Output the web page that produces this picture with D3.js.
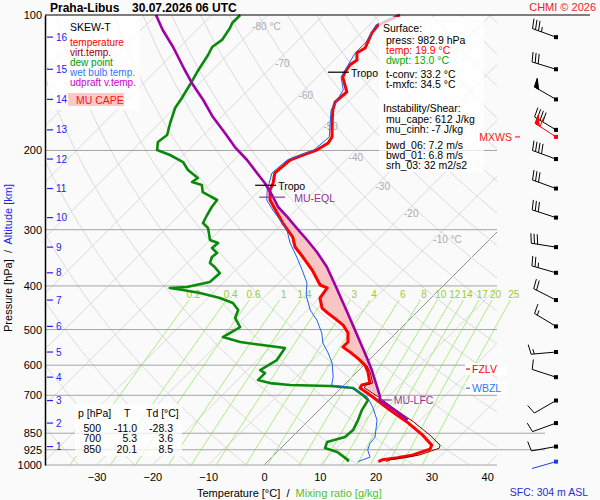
<!DOCTYPE html>
<html>
<head>
<meta charset="utf-8">
<title>SKEW-T Praha-Libus</title>
<script src="https://cdn.jsdelivr.net/npm/d3@7"></script>
<style>
body { margin: 0; background: #fafafa; }
svg { font-family: "Liberation Sans", Arial, sans-serif; }
text { white-space: pre; }
</style>
</head>
<body>
<svg id="skewt" width="600" height="500"></svg>
<script>
var pressureTicks = [100, 200, 300, 400, 500, 600, 700, 850, 925, 1000];
var tempTicks = [-30, -20, -10, 0, 10, 20, 30, 40];
var isoLabelT = [-80, -70, -60, -50, -40, -30, -20, -10];
var isoLabelP = [106, 128, 151, 177, 207, 240, 276, 316];
var mixRatios = [0.2, 0.4, 0.6, 1, 1.4, 2, 3, 4, 6, 8, 10, 12, 14, 17, 20, 25];
var mixLabels = ["0.2", "0.4", "0.6", "1", "1.4", "2", "3", "4", "6", "8", "10", "12", "14", "17", "20", "25"];

// altitude (km) and the pressure where it sits; winds are plotted at each km
var altKm = [1, 2, 3, 4, 5, 6, 7, 8, 9, 10, 11, 12, 13, 14, 15, 16];
var altP = [910, 807, 719, 638, 561, 492, 430, 374, 328, 282, 243, 209, 180, 154, 132, 112];
var windDir = [260, 250, 240, 288, 265, 301, 297, 286, 279, 288, 290, 290, 301, 300, 287, 290];
var windSpd = [10, 10, 10, 10, 15, 15, 20, 25, 30, 30, 30, 40, 40, 50, 30, 35];
var sfcWind = [982.9, 254, 2];      // p, dir, speed
var maxWind = [186.6, 303, 60];     // MXWS level

// profiles as [p hPa, T degC]
var temperature = [[100,-56.3],[105.3,-58.4],[109.6,-58.1],[114.8,-57.2],[118.4,-56.6],[121.5,-57.2],[125.9,-55.9],[129.2,-56.3],[133.9,-55.9],[137.4,-55.4],[148.3,-52.0],[152.9,-52.2],[156.1,-52.3],[162.6,-51.3],[173.7,-49.1],[186.6,-46.6],[192.5,-46.2],[199.5,-47.0],[204.7,-48.6],[210.0,-50.0],[217.8,-50.2],[224.4,-50.4],[236.2,-48.9],[244.9,-48.2],[257.8,-46.4],[275.5,-42.8],[289.9,-40.0],[311.5,-35.7],[327.8,-33.5],[345.0,-30.3],[368.8,-26.3],[398.1,-22.2],[404.2,-20.4],[425.6,-19.9],[448.2,-17.7],[459.6,-15.8],[476.3,-12.9],[488.7,-10.9],[509.0,-8.6],[533.0,-7.0],[546.8,-7.0],[561.3,-4.8],[579.3,-2.3],[599.9,0.2],[621.9,2.0],[657.6,4.3],[664.2,3.2],[674.2,3.4],[691.7,5.6],[705.9,7.3],[754.6,12.7],[802.2,17.9],[858.5,23.1],[903.3,26.5],[921.8,26.9],[949.7,24.9],[963.4,22.6],[973.1,20.3],[982.9,19.9]];
var virtTemp = [[599.9,0.5],[621.9,2.4],[657.6,4.8],[664.2,3.8],[674.2,4.2],[691.7,6.5],[705.9,8.3],[754.6,13.8],[802.2,19.1],[858.5,24.4],[903.3,28.0],[918.0,28.4],[949.7,26.1],[963.4,23.9],[973.1,21.7],[982.9,21.3]];
var dewPoint = [[100,-84.9],[104.2,-84.9],[106.9,-84.4],[113.6,-83.7],[117.8,-84.2],[122.7,-83.5],[127.8,-83.0],[133.9,-82.4],[143.1,-81.4],[152.9,-80.5],[161.0,-79.9],[173.8,-78.1],[184.8,-76.5],[191.5,-76.9],[199.6,-75.6],[204.7,-72.4],[212.2,-68.8],[221.0,-66.5],[230.2,-63.3],[235.1,-63.6],[238.7,-61.3],[247.4,-59.9],[257.7,-55.9],[267.1,-55.6],[278.3,-55.0],[289.9,-54.3],[297.4,-52.5],[316.2,-50.0],[321.2,-48.0],[329.5,-48.2],[338.0,-46.4],[345.0,-46.6],[355.6,-45.9],[363.2,-44.3],[374.7,-42.3],[392.2,-42.5],[402.3,-45.7],[404.4,-48.6],[408.5,-45.9],[414.8,-42.3],[425.6,-37.8],[436.6,-34.6],[452.5,-32.4],[471.5,-31.5],[493.7,-29.0],[519.6,-30.3],[533.0,-26.3],[540.0,-22.6],[549.7,-17.2],[584.5,-16.5],[615.2,-17.7],[624.7,-16.3],[647.5,-16.3],[657.6,-13.6],[664.3,-9.7],[667.7,-2.3],[674.6,2.2],[699.2,5.2],[717.3,7.0],[755.0,7.7],[794.6,8.8],[836.4,9.7],[866.9,9.5],[889.3,7.2],[917.1,7.9],[936.0,10.8],[975.2,14.2],[982.9,14.3]];
var wetBulb = [[100,-56.6],[105.3,-58.8],[114.8,-57.5],[121.5,-57.5],[129.2,-56.6],[137.4,-55.7],[146.8,-53.0],[162.6,-51.6],[186.6,-47.1],[199.5,-47.5],[210.0,-50.5],[224.4,-50.9],[244.9,-48.7],[257.7,-47.0],[271.3,-44.1],[285.5,-41.0],[300.5,-38.0],[321.2,-35.1],[345.0,-31.4],[368.8,-28.1],[394.2,-24.9],[419.2,-22.9],[452.5,-19.5],[476.3,-16.5],[509.0,-13.3],[535.8,-11.3],[561.3,-8.8],[593.0,-6.1],[637.0,-3.4],[664.3,-2.2],[671.0,1.1],[681.0,2.9],[705.9,6.3],[743.6,9.1],[794.6,12.2],[866.9,14.9],[894.4,15.1],[926.3,15.9],[960.6,17.6],[975.2,16.7],[982.9,16.2]];
var parcel = [[100,-100.0],[108.0,-96.1],[117.8,-91.2],[130.5,-85.8],[141.6,-81.4],[154.5,-76.3],[168.6,-71.5],[182.9,-66.5],[196.5,-62.2],[210.0,-57.7],[224.4,-53.6],[236.2,-50.4],[253.8,-46.4],[267.1,-43.7],[280.9,-40.3],[297.5,-36.6],[316.2,-32.6],[336.2,-28.7],[363.2,-24.2],[398.2,-19.5],[457.3,-12.5],[514.3,-6.6],[576.3,-0.9],[615.2,2.3],[671.0,6.3],[705.9,8.6],[717.3,9.1],[755.0,13.6],[794.6,17.7]];

// special levels (hPa)
var tropoP = [134, 239];
var eqlP = 254, lfcP = 717, fzlvP = 612, wbzlP = 675;

// small table
var tableP = [500, 700, 850];
var tableT = [-11.0, 5.3, 20.1];
var tableTd = [-28.3, 3.6, 8.5];

var svg = d3.select("#skewt");
var plotL = 45, plotR = 497, plotT = 15, plotB = 465;

var yScale = d3.scaleLog().domain([100, 1000]).range([plotT, plotB]);
var tScale = d3.scaleLinear().domain([0, 10]).range([264, 319.8]);   // at 1000 hPa
// skewed x position of temperature t at pressure p
function sx(t, p) { return tScale(t) + (plotB - yScale(p)); }

var line = d3.line().x(function(d){ return sx(d[1], d[0]); }).y(function(d){ return yScale(d[0]); });

svg.append("rect").attr("width", 600).attr("height", 500).attr("fill", "#fafafa");

var defs = svg.append("defs");
defs.append("clipPath").attr("id", "plotClip").append("rect")
  .attr("x", plotL).attr("y", plotT).attr("width", plotR - plotL).attr("height", plotB - plotT);
defs.append("clipPath").attr("id", "mixClip").append("rect")
  .attr("x", plotL).attr("y", plotT).attr("width", 540 - plotL).attr("height", plotB - plotT);

// ---- background grid ----
var grid = svg.append("g").attr("clip-path", "url(#plotClip)");

// isotherms
d3.range(-130, 60, 10).forEach(function(t){
  grid.append("line")
    .attr("x1", sx(t, 1000)).attr("y1", yScale(1000))
    .attr("x2", sx(t, 100)).attr("y2", yScale(100))
    .attr("stroke", t === 0 ? "#777" : "#dadada")
    .attr("stroke-width", t === 0 ? 0.8 : 1);
});

// dry adiabats
var pSteps = d3.range(100, 1001, 10);
d3.range(220, 480, 10).forEach(function(th){
  var pts = pSteps.map(function(p){ return [p, th * Math.pow(p / 1000, 0.286) - 273.15]; });
  grid.append("path").attr("d", line(pts)).attr("fill", "none").attr("stroke", "#dadada").attr("stroke-width", 1);
});

// mixing ratio lines
function tdFromMix(w, p) {
  var e = w * p / (622 + w);
  var l = Math.log(e / 6.112);
  return 243.5 * l / (17.67 - l);
}
var mixG = svg.append("g").attr("clip-path", "url(#mixClip)");
var mixSteps = d3.range(430, 1001, 10);
mixRatios.forEach(function(w, i){
  var pts = mixSteps.map(function(p){ return [p, tdFromMix(w, p)]; });
  mixG.append("path").attr("d", line(pts)).attr("fill", "none").attr("stroke", "#a8ec80").attr("stroke-width", 1);
  svg.append("text")
    .attr("x", sx(tdFromMix(w, 417), 417)).attr("y", yScale(417)).attr("dy", "0.35em")
    .attr("text-anchor", "middle").attr("font-size", 10).attr("fill", "#99cc33")
    .text(mixLabels[i]);
});

// isotherm labels
isoLabelT.forEach(function(t, i){
  var lbl = (t === -80 || t === -10) ? t + " °C" : String(t);
  svg.append("text")
    .attr("x", sx(t, isoLabelP[i]) + (t === -80 ? -4 : 0)).attr("y", yScale(isoLabelP[i])).attr("dy", "0.35em")
    .attr("font-size", 10).attr("fill", "#aaa").text(lbl);
});

// pressure lines
pressureTicks.forEach(function(p){
  if (p === 100) return;
  svg.append("line")
    .attr("x1", plotL).attr("x2", (p === 850 || p === 925) ? 545 : plotR)
    .attr("y1", yScale(p)).attr("y2", yScale(p))
    .attr("stroke", "#a4a4a4").attr("stroke-width", 1);
});

// ---- CAPE area between environment and parcel ----
function interpT(arr, p) {
  for (var i = 0; i < arr.length - 1; i++) {
    if (p >= arr[i][0] && p <= arr[i + 1][0]) {
      var f = Math.log(p / arr[i][0]) / Math.log(arr[i + 1][0] / arr[i][0]);
      return arr[i][1] + f * (arr[i + 1][1] - arr[i][1]);
    }
  }
  return arr[arr.length - 1][1];
}
function between(arr, p1, p2) { return arr.filter(function(d){ return d[0] > p1 && d[0] < p2; }); }
var capePts = [[eqlP, interpT(parcel, eqlP)]]
  .concat(between(parcel, eqlP, lfcP))
  .concat([[lfcP, interpT(parcel, lfcP)], [lfcP, interpT(virtTemp, lfcP)]])
  .concat(between(temperature, eqlP, 600).concat(between(virtTemp, 599, lfcP)).reverse())
  .concat([[eqlP, interpT(temperature, eqlP)]]);
svg.append("path").attr("d", line(capePts) + "Z").attr("fill", "#f9c4c4").attr("stroke", "none");

// ---- profiles ----
svg.append("path").attr("d", line(dewPoint)).attr("fill", "none").attr("stroke", "#0a8a0a").attr("stroke-width", 2.6).attr("stroke-linejoin", "round");
svg.append("path").attr("d", line(temperature)).attr("fill", "none").attr("stroke", "#ff0000").attr("stroke-width", 3).attr("stroke-linejoin", "round");
svg.append("path").attr("d", line(virtTemp)).attr("fill", "none").attr("stroke", "#8b0000").attr("stroke-width", 1).attr("stroke-linejoin", "round");
svg.append("path").attr("d", line(wetBulb)).attr("fill", "none").attr("stroke", "#1f62f0").attr("stroke-width", 1).attr("stroke-linejoin", "round");
svg.append("path").attr("d", line(parcel)).attr("fill", "none").attr("stroke", "#a000a8").attr("stroke-width", 2.6).attr("stroke-linejoin", "round");

// ---- semi transparent boxes ----
svg.append("rect").attr("x", 48).attr("y", 16).attr("width", 92).attr("height", 94).attr("fill", "#fff").attr("opacity", 0.75);
svg.append("rect").attr("x", 379).attr("y", 17).attr("width", 105).attr("height", 155).attr("fill", "#fff").attr("opacity", 0.75);
svg.append("rect").attr("x", 75).attr("y", 404).attr("width", 107).attr("height", 52).attr("fill", "#fff").attr("opacity", 0.75);

// ---- axes ----
var yAxis = svg.append("g").attr("transform", "translate(" + plotL + ",0)")
  .call(d3.axisLeft(yScale).tickValues(pressureTicks).tickFormat(d3.format("d")).tickSize(0).tickSizeOuter(0).tickPadding(3));
yAxis.select(".domain").attr("stroke", "#000").attr("stroke-width", 1.5);
yAxis.selectAll("text").attr("font-size", 11).attr("fill", "#000").attr("font-family", "Liberation Sans, Arial, sans-serif");

var xAxis = svg.append("g").attr("transform", "translate(0," + plotB + ")")
  .call(d3.axisBottom(tScale).tickValues(tempTicks).tickSize(0).tickPadding(8));
xAxis.select(".domain").remove();
xAxis.selectAll("text").attr("font-size", 11).attr("fill", "#000").attr("font-family", "Liberation Sans, Arial, sans-serif");

// top frame line
svg.append("line").attr("x1", plotL).attr("x2", 590).attr("y1", plotT).attr("y2", plotT).attr("stroke", "#000").attr("stroke-width", 1.2);

// altitude ticks
altKm.forEach(function(km, i){
  var y = yScale(altP[i]);
  svg.append("line").attr("x1", 47).attr("x2", 53).attr("y1", y).attr("y2", y).attr("stroke", "#2222ee").attr("stroke-width", 1.2);
  svg.append("text").attr("x", 56).attr("y", y).attr("dy", "0.35em").attr("font-size", 10).attr("fill", "#2222ee").text(km);
});

// axis titles
var yt = svg.append("text").attr("transform", "translate(12,258) rotate(-90)").attr("text-anchor", "middle").attr("font-size", 11);
yt.append("tspan").attr("fill", "#000").text("Pressure [hPa]  /  ");
yt.append("tspan").attr("fill", "#2222ee").text("Altitude [km]");
var xt = svg.append("text").attr("x", 197).attr("y", 497).attr("font-size", 11);
xt.append("tspan").attr("fill", "#000").text("Temperature [°C]  /  ");
xt.append("tspan").attr("fill", "#55c22a").text("Mixing ratio [g/kg]");

svg.append("text").attr("x", 588).attr("y", 496).attr("text-anchor", "end").attr("font-size", 10.5).attr("fill", "#2a2ad8").text("SFC: 304 m ASL");
svg.append("text").attr("x", 50).attr("y", 12).attr("font-size", 12).attr("font-weight", "bold").text("Praha-Libus");
svg.append("text").attr("x", 132).attr("y", 12).attr("font-size", 12).attr("font-weight", "bold").text("30.07.2026 06 UTC");
svg.append("text").attr("x", 596).attr("y", 11).attr("text-anchor", "end").attr("font-size", 11).attr("fill", "#ee2222").text("CHMI © 2026");

// ---- legend ----
svg.append("text").attr("x", 70).attr("y", 27).attr("dy", "0.35em").attr("font-size", 10.5).text("SKEW-T");
var legendItems = [["temperature", "#ff0000"], ["virt.temp.", "#990000"], ["dew point", "#009900"], ["wet bulb temp.", "#3377ff"], ["udpraft v.temp.", "#cc00cc"]];
legendItems.forEach(function(it, i){
  svg.append("text").attr("x", 70).attr("y", 42 + i * 10).attr("dy", "0.35em").attr("font-size", 10).attr("fill", it[1]).text(it[0]);
});
svg.append("rect").attr("x", 68).attr("y", 93).attr("width", 56).attr("height", 13).attr("fill", "#ffc8c8");
svg.append("text").attr("x", 76).attr("y", 100).attr("dy", "0.35em").attr("font-size", 10.5).attr("fill", "#ff1111").text("MU CAPE");

// ---- surface / instability info ----
var info = [
  ["Surface:", "#000", 383, 28], ["press: 982.9 hPa", "#000", 386, 40], ["temp: 19.9 °C", "#ff0000", 386, 50],
  ["dwpt: 13.0 °C", "#00aa00", 386, 60], ["t-conv: 33.2 °C", "#000", 386, 74], ["t-mxfc: 34.5 °C", "#000", 386, 84],
  ["Instability/Shear:", "#000", 383, 108], ["mu_cape: 612 J/kg", "#000", 386, 119], ["mu_cinh: -7 J/kg", "#000", 386, 129],
  ["bwd_06: 7.2 m/s", "#000", 386, 145], ["bwd_01: 6.8 m/s", "#000", 386, 155], ["srh_03: 32 m2/s2", "#000", 386, 165]
];
info.forEach(function(r){
  svg.append("text").attr("x", r[2]).attr("y", r[3]).attr("dy", "0.35em").attr("font-size", 10.5).attr("fill", r[1]).text(r[0]);
});

// ---- table ----
svg.append("text").attr("x", 78).attr("y", 413).attr("dy", "0.35em").attr("font-size", 10.5).text("p [hPa]");
svg.append("text").attr("x", 124).attr("y", 413).attr("dy", "0.35em").attr("font-size", 10.5).text("T");
svg.append("text").attr("x", 146).attr("y", 413).attr("dy", "0.35em").attr("font-size", 10.5).text("Td [°C]");
tableP.forEach(function(p, i){
  var y = 428 + i * 10.5;
  svg.append("text").attr("x", 101).attr("y", y).attr("dy", "0.35em").attr("text-anchor", "end").attr("font-size", 10.5).text(p);
  svg.append("text").attr("x", 137).attr("y", y).attr("dy", "0.35em").attr("text-anchor", "end").attr("font-size", 10.5).text(tableT[i].toFixed(1));
  svg.append("text").attr("x", 173).attr("y", y).attr("dy", "0.35em").attr("text-anchor", "end").attr("font-size", 10.5).text(tableTd[i].toFixed(1));
});

// ---- level markers ----
tropoP.forEach(function(p){
  var x = sx(interpT(temperature, p), p), y = yScale(p);
  svg.append("line").attr("x1", x - 17).attr("x2", x + 4).attr("y1", y).attr("y2", y).attr("stroke", "#000").attr("stroke-width", 1.2);
  svg.append("text").attr("x", x + 6).attr("y", y + 1).attr("dy", "0.35em").attr("font-size", 10.5).text("Tropo");
});
(function(){
  var x = sx(interpT(parcel, eqlP), eqlP), y = yScale(eqlP);
  svg.append("line").attr("x1", x - 14).attr("x2", x + 12).attr("y1", y).attr("y2", y).attr("stroke", "#993399").attr("stroke-width", 1.2);
  svg.append("text").attr("x", x + 21).attr("y", y + 1).attr("dy", "0.35em").attr("font-size", 10.5).attr("fill", "#993399").text("MU-EQL");
  x = sx(interpT(parcel, lfcP), lfcP); y = yScale(lfcP);
  svg.append("line").attr("x1", x + 1).attr("x2", x + 12).attr("y1", y).attr("y2", y).attr("stroke", "#993399").attr("stroke-width", 1.2);
  svg.append("text").attr("x", x + 14).attr("y", y).attr("dy", "0.35em").attr("font-size", 10.5).attr("fill", "#993399").text("MU-LFC");
})();

[[fzlvP, "FZLV", "#ff0000"], [wbzlP, "WBZL", "#3377ff"]].forEach(function(l){
  var y = yScale(l[0]);
  svg.append("rect").attr("x", 465).attr("y", y - 6).attr("width", 42).attr("height", 12).attr("fill", "#fff");
  svg.append("line").attr("x1", 466).attr("x2", 470).attr("y1", y).attr("y2", y).attr("stroke", l[2]).attr("stroke-width", 1.2);
  svg.append("text").attr("x", 472).attr("y", y).attr("dy", "0.35em").attr("font-size", 10.5).attr("fill", l[2]).text(l[1]);
});

// ---- wind barbs ----
var barbX = 556;
function drawBarb(p, dir, spd, color) {
  var y0 = yScale(p);
  var a = dir * Math.PI / 180;
  var ux = Math.sin(a), uy = -Math.cos(a);          // towards where wind comes from
  var fx = -uy, fy = ux, tilt = 0.2;                 // feather side
  var gx = fx * Math.cos(tilt) + ux * Math.sin(tilt), gy = fy * Math.cos(tilt) + uy * Math.sin(tilt);
  var len = 25, ex = barbX + len * ux, ey = y0 + len * uy;
  var g = svg.append("g").attr("stroke", color).attr("fill", color);
  g.append("line").attr("x1", barbX).attr("y1", y0).attr("x2", ex).attr("y2", ey).attr("stroke-width", 1);
  g.append("rect").attr("x", barbX - 2).attr("y", y0 - 2).attr("width", 4).attr("height", 4).attr("stroke", "none");
  var s = Math.round(spd / 5) * 5, pos = 0;
  var n50 = Math.floor(s / 50); s -= n50 * 50;
  var n10 = Math.floor(s / 10); s -= n10 * 10;
  var n5 = s >= 5 ? 1 : 0;
  for (var i = 0; i < n50; i++) {
    var bx = ex - pos * ux, by = ey - pos * uy;
    var cx = ex - (pos + 5) * ux, cy = ey - (pos + 5) * uy;
    g.append("path").attr("d", "M" + bx + "," + by + "L" + (bx + 9 * gx) + "," + (by + 9 * gy) + "L" + cx + "," + cy + "Z");
    pos += 6;
  }
  for (var j = 0; j < n10; j++) {
    var qx = ex - pos * ux, qy = ey - pos * uy;
    g.append("line").attr("x1", qx).attr("y1", qy).attr("x2", qx + 10 * gx).attr("y2", qy + 10 * gy).attr("stroke-width", 1);
    pos += 3.2;
  }
  if (n5) {
    if (pos === 0) pos = 3.2;
    var hx = ex - pos * ux, hy = ey - pos * uy;
    g.append("line").attr("x1", hx).attr("y1", hy).attr("x2", hx + 5 * gx).attr("y2", hy + 5 * gy).attr("stroke-width", 1);
  }
}
altP.forEach(function(p, i){ drawBarb(p, windDir[i], windSpd[i], "#000"); });
drawBarb(maxWind[0], maxWind[1], maxWind[2], "#ff0000");
drawBarb(sfcWind[0], sfcWind[1], sfcWind[2], "#1a3ee8");

var my = yScale(maxWind[0]);
svg.append("text").attr("x", 512).attr("y", my).attr("dy", "0.35em").attr("text-anchor", "end").attr("font-size", 10.5).attr("fill", "#ff2222").text("MXWS");
svg.append("line").attr("x1", 515).attr("x2", 520).attr("y1", my).attr("y2", my).attr("stroke", "#ff2222").attr("stroke-width", 1.2);
</script>
</body>
</html>
